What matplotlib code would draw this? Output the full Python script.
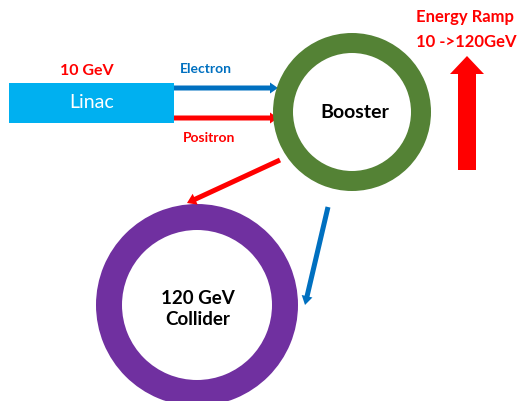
import matplotlib
matplotlib.use("Agg")
import matplotlib.pyplot as plt
from matplotlib.patches import Rectangle, Wedge, FancyArrow

# Diagram content
stage_labels = ["Linac", "Booster", "120 GeV\nCollider"]
beam_labels = ["Electron", "Positron"]
energy_labels = ["10 GeV", "Energy Ramp", "10 ->120GeV"]

BLUE = "#0070C0"
RED = "#FF0000"
CYAN = "#00B0F0"
GREEN = "#548235"
PURPLE = "#7030A0"

W, H = 517, 401
fig = plt.figure(figsize=(W / 100, H / 100), dpi=100)
ax = fig.add_axes([0, 0, 1, 1])
ax.set_xlim(0, W)
ax.set_ylim(H, 0)
ax.axis("off")

fam = ["Lato", "DejaVu Sans"]

# Linac box
ax.add_patch(Rectangle((9, 83), 165, 40, facecolor=CYAN, edgecolor="none"))
ax.text(92, 103, stage_labels[0], color="white", fontsize=14, ha="center", va="center", family=fam)
ax.text(87, 71, energy_labels[0], color=RED, fontsize=11.5, fontweight="bold", ha="center", va="center", family=fam)

# Electron / Positron arrows
ax.add_patch(FancyArrow(174, 88, 104, 0, width=5, head_width=11, head_length=8,
                        length_includes_head=True, color=BLUE, lw=0))
ax.add_patch(FancyArrow(174, 118, 104, 0, width=5, head_width=11, head_length=8,
                        length_includes_head=True, color=RED, lw=0))
ax.text(206, 69, beam_labels[0], color=BLUE, fontsize=10, fontweight="bold", ha="center", va="center", family=fam)
ax.text(209, 138, beam_labels[1], color=RED, fontsize=10, fontweight="bold", ha="center", va="center", family=fam)

# Booster ring
ax.add_patch(Wedge((352, 112), 79, 0, 360, width=20, facecolor=GREEN, edgecolor="none"))
ax.text(355, 113, stage_labels[1], color="black", fontsize=14, fontweight="bold", ha="center", va="center", family=fam)

# Energy ramp arrow
ax.add_patch(FancyArrow(467, 170, 0, -114, width=18, head_width=34, head_length=18,
                        length_includes_head=True, color=RED, lw=0))
ax.text(416, 17, energy_labels[1], color=RED, fontsize=12, fontweight="bold", ha="left", va="center", family=fam)
ax.text(416, 42, energy_labels[2], color=RED, fontsize=12, fontweight="bold", ha="left", va="center", family=fam)

# Collider ring
ax.add_patch(Wedge((197, 305), 101, 0, 360, width=26, facecolor=PURPLE, edgecolor="none"))
ax.text(198, 309, stage_labels[2], color="black", fontsize=13.5, fontweight="bold", ha="center", va="center",
        family=fam, linespacing=1.3)

# Transfer arrows booster -> collider
ax.add_patch(FancyArrow(280, 160, -93, 43, width=5, head_width=12, head_length=9,
                        length_includes_head=True, color=RED, lw=0))
ax.add_patch(FancyArrow(328, 207, -23, 98, width=5, head_width=11, head_length=9,
                        length_includes_head=True, color=BLUE, lw=0))

fig.savefig("out.png", dpi=100)
